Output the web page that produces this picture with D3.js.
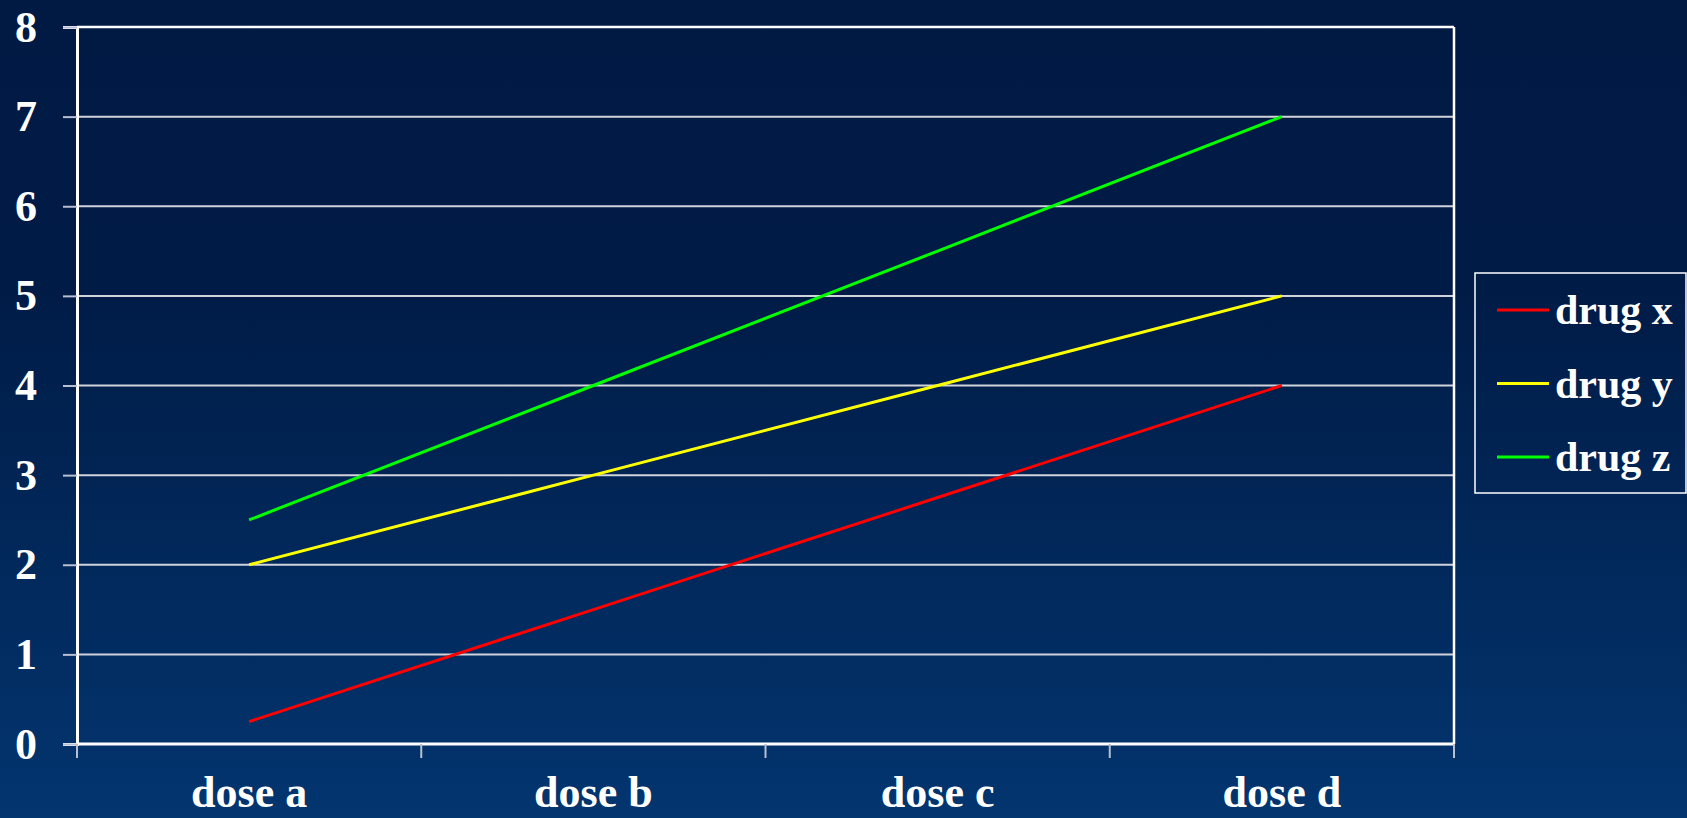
<!DOCTYPE html>
<html>
<head>
<meta charset="utf-8">
<script src="https://cdn.jsdelivr.net/npm/d3@7"></script>
<style>
  html, body { margin: 0; padding: 0; background: #001a44; }
  svg { display: block; }
  text { font-family: "Liberation Serif", "Times New Roman", serif; font-weight: bold; fill: #ffffff; }
</style>
</head>
<body>
<svg id="chart" width="1687" height="818"></svg>
<script>
// Doses along the x axis
const categories = ["dose a", "dose b", "dose c", "dose d"];

// Response per dose for each drug
const drugX = [0.25, 1.5, 2.75, 4];
const drugY = [2, 3, 4, 5];
const drugZ = [2.5, 4, 5.5, 7];

const seriesNames = ["drug x", "drug y", "drug z"];
const seriesColors = ["#ff0000", "#ffff00", "#00ff00"];
const yTicks = [0, 1, 2, 3, 4, 5, 6, 7, 8];

const series = [drugX, drugY, drugZ].map((values, i) => ({
  name: seriesNames[i], color: seriesColors[i], values
}));

const W = 1687, H = 818;
const plot = { left: 77, right: 1454, top: 27, bottom: 744 };

const svg = d3.select("#chart");

// Background gradient, dark navy at the top fading to a lighter blue
const defs = svg.append("defs");
const grad = defs.append("linearGradient").attr("id", "bg")
  .attr("x1", 0).attr("y1", 0).attr("x2", 0).attr("y2", 1);
grad.append("stop").attr("offset", "0%").attr("stop-color", "#001a44");
grad.append("stop").attr("offset", "35%").attr("stop-color", "#001b46");
grad.append("stop").attr("offset", "100%").attr("stop-color", "#03356f");
svg.append("rect").attr("width", W).attr("height", H).attr("fill", "url(#bg)");

const x = d3.scaleBand().domain(categories).range([plot.left, plot.right]);
const y = d3.scaleLinear().domain([0, 8]).range([plot.bottom, plot.top]);

// Horizontal gridlines
svg.append("g")
  .selectAll("line")
  .data(yTicks.filter(t => t > 0 && t < 8))
  .join("line")
  .attr("x1", plot.left).attr("x2", plot.right)
  .attr("y1", d => y(d)).attr("y2", d => y(d))
  .attr("stroke", "#d0d3dc").attr("stroke-width", 2);

// Plot frame top and right
svg.append("line")
  .attr("x1", plot.left).attr("x2", plot.right)
  .attr("y1", y(8)).attr("y2", y(8))
  .attr("stroke", "#ffffff").attr("stroke-width", 2.5);
svg.append("line")
  .attr("x1", plot.right).attr("x2", plot.right)
  .attr("y1", plot.top).attr("y2", plot.bottom)
  .attr("stroke", "#ffffff").attr("stroke-width", 2.5);

// Y axis
const yAxis = d3.axisLeft(y).tickValues(yTicks).tickSize(14).tickPadding(28);
const gy = svg.append("g").attr("transform", `translate(${plot.left},0)`).call(yAxis);
gy.select(".domain").attr("stroke", "#ffffff").attr("stroke-width", 3);
gy.selectAll(".tick line").attr("stroke", "#b8bfd0").attr("stroke-width", 2);
gy.selectAll(".tick text")
  .attr("fill", "#ffffff").attr("font-size", 44)
  .attr("font-family", "Liberation Serif, Times New Roman, serif")
  .attr("font-weight", "bold")
  .attr("text-anchor", "middle")
  .attr("x", -51);

// X axis: tick marks at band edges, labels at band centres
const xEdges = categories.map(c => x(c)).concat([plot.right]);
const gx = svg.append("g");
gx.append("line")
  .attr("x1", plot.left).attr("x2", plot.right)
  .attr("y1", plot.bottom).attr("y2", plot.bottom)
  .attr("stroke", "#ffffff").attr("stroke-width", 3);
gx.selectAll("line.tk")
  .data(xEdges)
  .join("line").attr("class", "tk")
  .attr("x1", d => d).attr("x2", d => d)
  .attr("y1", plot.bottom).attr("y2", plot.bottom + 14)
  .attr("stroke", "#b8bfd0").attr("stroke-width", 2);
gx.selectAll("text")
  .data(categories)
  .join("text")
  .attr("x", d => x(d) + x.bandwidth() / 2)
  .attr("y", 807)
  .attr("text-anchor", "middle")
  .attr("font-size", 44)
  .text(d => d);

// Series lines
const line = d3.line()
  .x((d, i) => x(categories[i]) + x.bandwidth() / 2)
  .y(d => y(d));
svg.append("g")
  .selectAll("path")
  .data(series)
  .join("path")
  .attr("d", d => line(d.values))
  .attr("fill", "none")
  .attr("stroke", d => d.color)
  .attr("stroke-width", 3);

// Legend
const legend = svg.append("g");
legend.append("rect")
  .attr("x", 1475).attr("y", 273).attr("width", 211).attr("height", 220)
  .attr("fill", "none").attr("stroke", "#ffffff").attr("stroke-width", 1.5);
const items = legend.selectAll("g.item")
  .data(series)
  .join("g").attr("class", "item")
  .attr("transform", (d, i) => `translate(0,${310 + i * 73.5})`);
items.append("line")
  .attr("x1", 1497).attr("x2", 1549)
  .attr("y1", 0).attr("y2", 0)
  .attr("stroke", d => d.color).attr("stroke-width", 3);
items.append("text")
  .attr("x", 1555).attr("y", 14)
  .attr("font-size", 42)
  .text(d => d.name);
</script>
</body>
</html>
